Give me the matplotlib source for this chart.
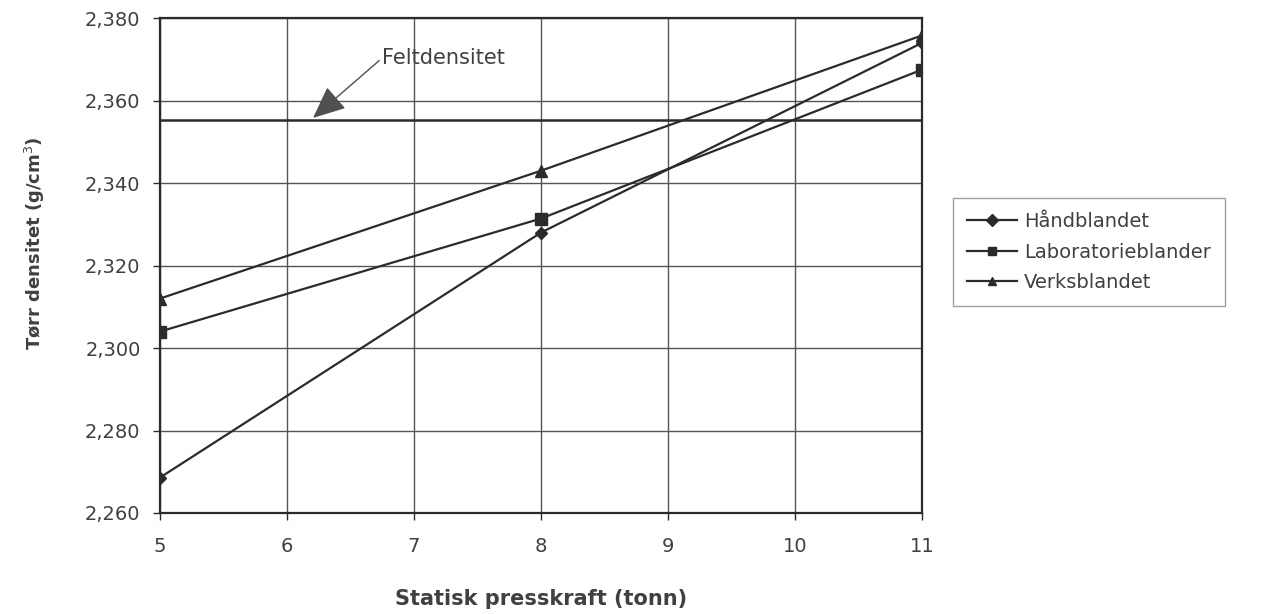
import matplotlib
matplotlib.use("Agg")
import matplotlib.pyplot as plt
from matplotlib.ticker import FuncFormatter

plt.rcParams['font.family'] = ['DejaVu Sans']

# Data
presskraft = [5, 8, 11]
handblandet = [2.2686, 2.328, 2.374]
laboratorieblander = [2.304, 2.3314, 2.3675]
verksblandet = [2.312, 2.343, 2.3758]
feltdensitet = 2.3553

series_names = ["Håndblandet", "Laboratorieblander", "Verksblandet"]
x_ticks = [5, 6, 7, 8, 9, 10, 11]
y_ticks = [2.260, 2.280, 2.300, 2.320, 2.340, 2.360, 2.380]

ink = "#2b2b2b"
text_col = "#404040"

fig = plt.figure(figsize=(12.66, 6.14), dpi=100)
ax = fig.add_axes([0.1264, 0.1645, 0.6019, 0.806])

ax.plot(presskraft, handblandet, color=ink, lw=1.6, marker="D", ms=6,
        label=series_names[0])
ax.plot(presskraft, laboratorieblander, color=ink, lw=1.6, marker="s", ms=8,
        label=series_names[1])
ax.plot(presskraft, verksblandet, color=ink, lw=1.6, marker="^", ms=9,
        label=series_names[2])

ax.axhline(feltdensitet, color=ink, lw=1.8)

ax.set_xlim(5, 11)
ax.set_ylim(2.260, 2.380)
ax.set_xticks(x_ticks)
ax.set_yticks(y_ticks)
ax.yaxis.set_major_formatter(FuncFormatter(lambda v, p: f"{v:.3f}".replace(".", ",")))
ax.grid(True, color="#555555", lw=1.0)
ax.set_axisbelow(True)
for s in ax.spines.values():
    s.set_color(ink)
    s.set_linewidth(1.6)
ax.tick_params(axis="both", colors=ink, labelcolor=text_col, labelsize=14,
               length=5, width=1.0, direction="out")
ax.tick_params(axis="x", pad=12)
ax.tick_params(axis="y", pad=9)

ax.set_xlabel("Statisk presskraft (tonn)", fontsize=15, fontweight="bold",
              color=text_col)
ax.xaxis.set_label_coords(0.5, -0.153)
ax.set_ylabel("Tørr densitet (g/cm$^3$)", fontsize=13, fontweight="bold",
              color=text_col)
ax.yaxis.set_label_coords(-0.148, 0.545)

ax.annotate("Feltdensitet", xy=(6.205, 2.3558), xytext=(6.748, 2.3703),
            fontsize=15, color=text_col, va="center", ha="left",
            arrowprops=dict(arrowstyle="-|>,head_length=1.35,head_width=0.6",
                            color="#505050", lw=1.0, shrinkA=0, shrinkB=0,
                            relpos=(0.0, 0.5)))

leg = ax.legend(loc="upper left", bbox_to_anchor=(1.041, 0.636), frameon=True,
                fontsize=14, handlelength=2.6, handletextpad=0.35,
                labelspacing=0.6, borderpad=0.7, borderaxespad=0.0,
                fancybox=False)
leg.get_frame().set_edgecolor("#888888")
leg.get_frame().set_linewidth(1.0)
for t in leg.get_texts():
    t.set_color(text_col)
for h in leg.get_lines():
    h.set_markersize(6)

fig.savefig("out.png", dpi=100, facecolor="white")
